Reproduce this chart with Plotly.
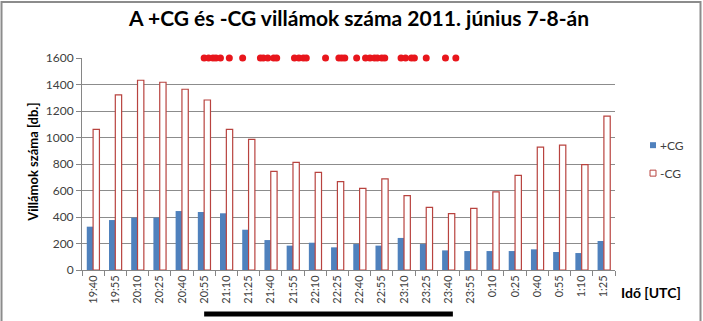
import plotly.graph_objects as go

categories = ["19:40", "19:55", "20:10", "20:25", "20:40", "20:55", "21:10", "21:25",
              "21:40", "21:55", "22:10", "22:25", "22:40", "22:55", "23:10", "23:25",
              "23:40", "23:55", "0:10", "0:25", "0:40", "0:55", "1:10", "1:25"]
pos_cg = [327, 377, 395, 395, 445, 438, 428, 304, 226, 184, 206, 171, 196, 184, 242, 196,
          148, 143, 143, 143, 156, 136, 128, 219]
neg_cg = [1062, 1321, 1432, 1417, 1364, 1283, 1062, 986, 745, 813, 737, 667, 616, 687, 561, 473,
          425, 465, 589, 714, 928, 943, 795, 1162]
event_times = ["20:55", "20:58", "21:01", "21:03", "21:06", "21:12", "21:21", "21:33", "21:35",
               "21:38", "21:42", "21:44", "21:56", "21:59", "22:02", "22:04", "22:17", "22:26",
               "22:28", "22:30", "22:38", "22:44", "22:47", "22:50", "22:52", "22:55", "22:57",
               "23:08", "23:11", "23:15", "23:17", "23:25", "23:38", "23:45"]
event_level = 1600
period = ["20:55", "23:43"]
y_ticks = [0, 200, 400, 600, 800, 1000, 1200, 1400, 1600]
series_names = ["+CG", "-CG"]


def to_pos(t):
    h, m = map(int, t.split(":"))
    mins = h * 60 + m
    start = 19 * 60 + 40
    if mins < start:
        mins += 24 * 60
    return (mins - start) / 15.0


x_idx = list(range(len(categories)))
FONT = "Lato"
BLUE = "#4F81BD"
RED_LINE = "#B8433F"

fig = go.Figure()
fig.add_trace(go.Bar(x=x_idx, y=pos_cg, name=series_names[0],
                     marker=dict(color=BLUE, line=dict(width=0))))
fig.add_trace(go.Bar(x=x_idx, y=neg_cg, name=series_names[1],
                     marker=dict(color="white", line=dict(color=RED_LINE, width=1.2))))
fig.add_trace(go.Scatter(x=[to_pos(t) for t in event_times], y=[event_level] * len(event_times),
                         mode="markers", marker=dict(color="#E8161C", size=7), showlegend=False,
                         cliponaxis=False))

fig.update_layout(
    width=703, height=321,
    margin=dict(l=82, r=88, t=58, b=51),
    paper_bgcolor="white", plot_bgcolor="white",
    barmode="group", bargap=0.43, bargroupgap=0,
    font=dict(family=FONT, size=11, color="#404040"),
    showlegend=False,
    xaxis=dict(range=[-0.5, len(categories) - 0.5], tickmode="array", tickvals=x_idx,
               ticktext=categories, tickangle=-90, ticks="", showgrid=False,
               showline=True, linecolor="#868686", linewidth=1,
               minor=dict(tickmode="linear", tick0=-0.5, dtick=1, ticks="outside", ticklen=5,
                          tickcolor="#868686", showgrid=False),
               tickfont=dict(size=11, color="#404040"), zeroline=False),
    yaxis=dict(range=[0, 1600], tickmode="array", tickvals=y_ticks, showgrid=True,
               gridcolor="#8C8C8C", gridwidth=1, showline=True, linecolor="#868686",
               ticks="outside", ticklen=5, tickcolor="#868686", zeroline=False,
               tickfont=dict(size=12, color="#404040")),
    annotations=[
        dict(text="<b>A +CG és -CG villámok száma 2011. június 7-8-án</b>", xref="paper", yref="paper",
             x=0.518, y=1.19, showarrow=False, font=dict(size=21, color="black", family=FONT),
             xanchor="center", yanchor="middle"),
        dict(text="<b>Villámok száma [db.]</b>", xref="paper", yref="paper", x=-0.092, y=0.51,
             textangle=-90, showarrow=False, font=dict(size=13, color="black", family=FONT),
             xanchor="center", yanchor="middle"),
        dict(text="<b>Idő [UTC]</b>", xref="paper", yref="paper", x=1.068, y=-0.108,
             showarrow=False, font=dict(size=14, color="black", family=FONT),
             xanchor="center", yanchor="middle"),
        dict(text=series_names[0], xref="paper", yref="paper", x=1.0807, y=0.5888,
             showarrow=False, font=dict(size=12, color="#404040", family=FONT),
             xanchor="left", yanchor="middle"),
        dict(text=series_names[1], xref="paper", yref="paper", x=1.0807, y=0.4569,
             showarrow=False, font=dict(size=12, color="#404040", family=FONT),
             xanchor="left", yanchor="middle"),
    ],
    shapes=[
        dict(type="rect", xref="paper", yref="paper", x0=-0.151, x1=1.1604, y0=-0.3, y1=1.2647,
             line=dict(color="#8C8C8C", width=2), layer="below"),
        dict(type="line", xref="x", yref="paper", x0=to_pos(period[0]), x1=to_pos(period[1]),
             y0=-0.207, y1=-0.207, line=dict(color="black", width=5)),
        dict(type="rect", xref="paper", yref="paper", x0=1.0657, x1=1.0769, y0=0.5747, y1=0.6029,
             fillcolor=BLUE, line=dict(width=0)),
        dict(type="rect", xref="paper", yref="paper", x0=1.0657, x1=1.0769, y0=0.4428, y1=0.4710,
             fillcolor="white", line=dict(color=RED_LINE, width=1)),
    ],
)

fig.write_html("out.html")
